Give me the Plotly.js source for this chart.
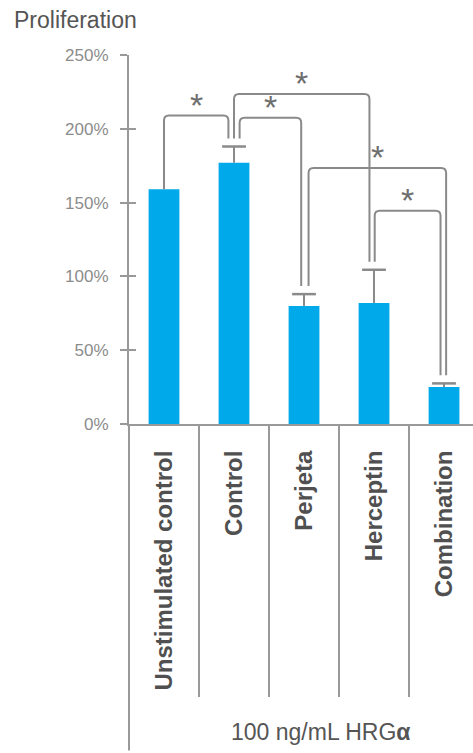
<!DOCTYPE html>
<html>
<head>
<meta charset="utf-8">
<script src="https://cdn.plot.ly/plotly-3.0.1.min.js"></script>
<style>html,body{margin:0;padding:0;background:#fff;}#chart{width:473px;height:753px;}</style>
</head>
<body>
<div id="chart"></div>
<script>
// ---- data ----
var categories = ["Unstimulated control", "Control", "Perjeta", "Herceptin", "Combination"];
var proliferation = [159, 177, 80, 82, 25];        // % of baseline
var errorUpper = [0, 11, 8, 22.5, 2.5];              // upper SEM, %
var yTickValues = [0, 50, 100, 150, 200, 250];
var yTickLabels = ["0%", "50%", "100%", "150%", "200%", "250%"];
// significance brackets (category index pairs) and bracket heights (%)
var bracketFrom = [0, 1, 1, 2, 3];
var bracketTo   = [1, 2, 3, 4, 4];
var bracketTop  = [209, 207.5, 223.5, 173.5, 144.5];
var bracketLabel = ["*", "*", "*", "*", "*"];
var xAxisTitle = "100 ng/mL HRG<b>α</b>";
var yAxisTitle = "Proliferation";

// ---- styling / geometry (not data) ----
var legOffsetFrom = [0, 0.08, 0, 0.065, 0.01];
var legOffsetTo   = [-0.08, -0.04, -0.065, 0.03, -0.05];
var gray = "#999999";
var brGray = "#8a8a8a";
var rx = 0.07, ry = 3.4;
var FONT = "Liberation Sans, Arial, sans-serif";

function legBottom(i) {
  return errorUpper[i] > 0 ? proliferation[i] + errorUpper[i] + 5.5 : proliferation[i];
}

var shapes = [];
var annotations = [];
for (var k = 0; k < bracketFrom.length; k++) {
  var x0 = bracketFrom[k] + legOffsetFrom[k];
  var x1 = bracketTo[k] + legOffsetTo[k];
  var y0 = legBottom(bracketFrom[k]);
  var y1 = legBottom(bracketTo[k]);
  var t = bracketTop[k];
  var path = "M " + x0 + "," + y0 +
    " L " + x0 + "," + (t - ry) +
    " Q " + x0 + "," + t + " " + (x0 + rx) + "," + t +
    " L " + (x1 - rx) + "," + t +
    " Q " + x1 + "," + t + " " + x1 + "," + (t - ry) +
    " L " + x1 + "," + y1;
  shapes.push({type: "path", xref: "x", yref: "y", path: path,
    line: {color: brGray, width: 2}});
  annotations.push({xref: "x", yref: "y", x: (x0 + x1) / 2, y: t, text: bracketLabel[k],
    showarrow: false, yanchor: "middle", yshift: 11,
    font: {family: FONT, size: 34, color: "#6e6e6e"}});
}
// extension of the vertical axis below the baseline
shapes.push({type: "line", xref: "paper", yref: "paper", x0: 0, x1: 0, y0: 0, y1: -0.885,
  line: {color: gray, width: 2}});

annotations.push({xref: "paper", yref: "paper", x: 0.558, y: -0.835, xanchor: "center", yanchor: "middle",
  text: xAxisTitle, showarrow: false,
  font: {family: FONT, size: 23, color: "#555555"}});
annotations.push({xref: "paper", yref: "paper", x: -0.341, y: 1.095, xanchor: "left", yanchor: "middle",
  text: yAxisTitle, showarrow: false,
  font: {family: FONT, size: 23, color: "#555555"}});

var xIdx = categories.map(function (c, i) { return i; });
var separators = categories.slice(1).map(function (c, i) { return i + 0.5; });

// error bar stems and caps (upper only)
var stemX = [], stemY = [], capX = [], capY = [];
for (var i = 0; i < categories.length; i++) {
  if (errorUpper[i] > 0) {
    stemX.push(xIdx[i], xIdx[i], null);
    stemY.push(proliferation[i], proliferation[i] + errorUpper[i], null);
    capX.push(xIdx[i]);
    capY.push(proliferation[i] + errorUpper[i]);
  }
}

var traces = [
  {type: "bar", x: xIdx, y: proliferation, width: 0.44,
   marker: {color: "#00a9e9", line: {width: 0}}, hoverinfo: "skip"},
  {type: "scatter", x: stemX, y: stemY, mode: "lines",
   line: {color: brGray, width: 2}, hoverinfo: "skip"},
  {type: "scatter", x: capX, y: capY, mode: "markers",
   marker: {symbol: "line-ew", size: 17, line: {color: brGray, width: 2.5}}, hoverinfo: "skip"},
  {type: "scatter", x: [xIdx[0]], y: [proliferation[0]], yaxis: "y2", mode: "none",
   hoverinfo: "skip", showlegend: false}
];

var layout = {
  width: 473, height: 753,
  margin: {l: 129, r: 0, t: 55, b: 329, pad: 0},
  paper_bgcolor: "#ffffff", plot_bgcolor: "#ffffff",
  showlegend: false,
  font: {family: FONT},
  xaxis: {
    range: [-0.5, 4.414], fixedrange: true,
    tickmode: "array", tickvals: xIdx, ticktext: categories,
    tickangle: -90, ticks: "", ticklabelstandoff: 15,
    tickfont: {family: FONT, size: 24, color: "#505050", weight: "bold"},
    showline: true, linecolor: gray, linewidth: 2,
    showgrid: false, zeroline: false, automargin: false,
    minor: {tickmode: "array", tickvals: separators, ticks: "outside", ticklen: 271,
      tickcolor: gray, tickwidth: 2, showgrid: false}
  },
  yaxis: {
    range: [0, 250], fixedrange: true,
    tickmode: "array", tickvals: yTickValues, ticktext: yTickLabels,
    ticks: "outside", ticklen: 7, tickwidth: 2, tickcolor: gray,
    tickfont: {family: FONT, size: 17, color: "#8c8c8c"},
    ticklabelstandoff: 8,
    showline: true, linecolor: gray, linewidth: 2,
    showgrid: false, zeroline: false, automargin: false
  },
  yaxis2: {
    overlaying: "y", side: "left", anchor: "x",
    range: [0, 250], fixedrange: true,
    tickmode: "array", tickvals: yTickValues,
    ticks: "inside", ticklen: 7, tickwidth: 2, tickcolor: gray,
    showticklabels: false, showline: false, showgrid: false, zeroline: false
  },
  shapes: shapes,
  annotations: annotations
};

Plotly.newPlot("chart", traces, layout, {displayModeBar: false, staticPlot: true});
</script>
</body>
</html>
